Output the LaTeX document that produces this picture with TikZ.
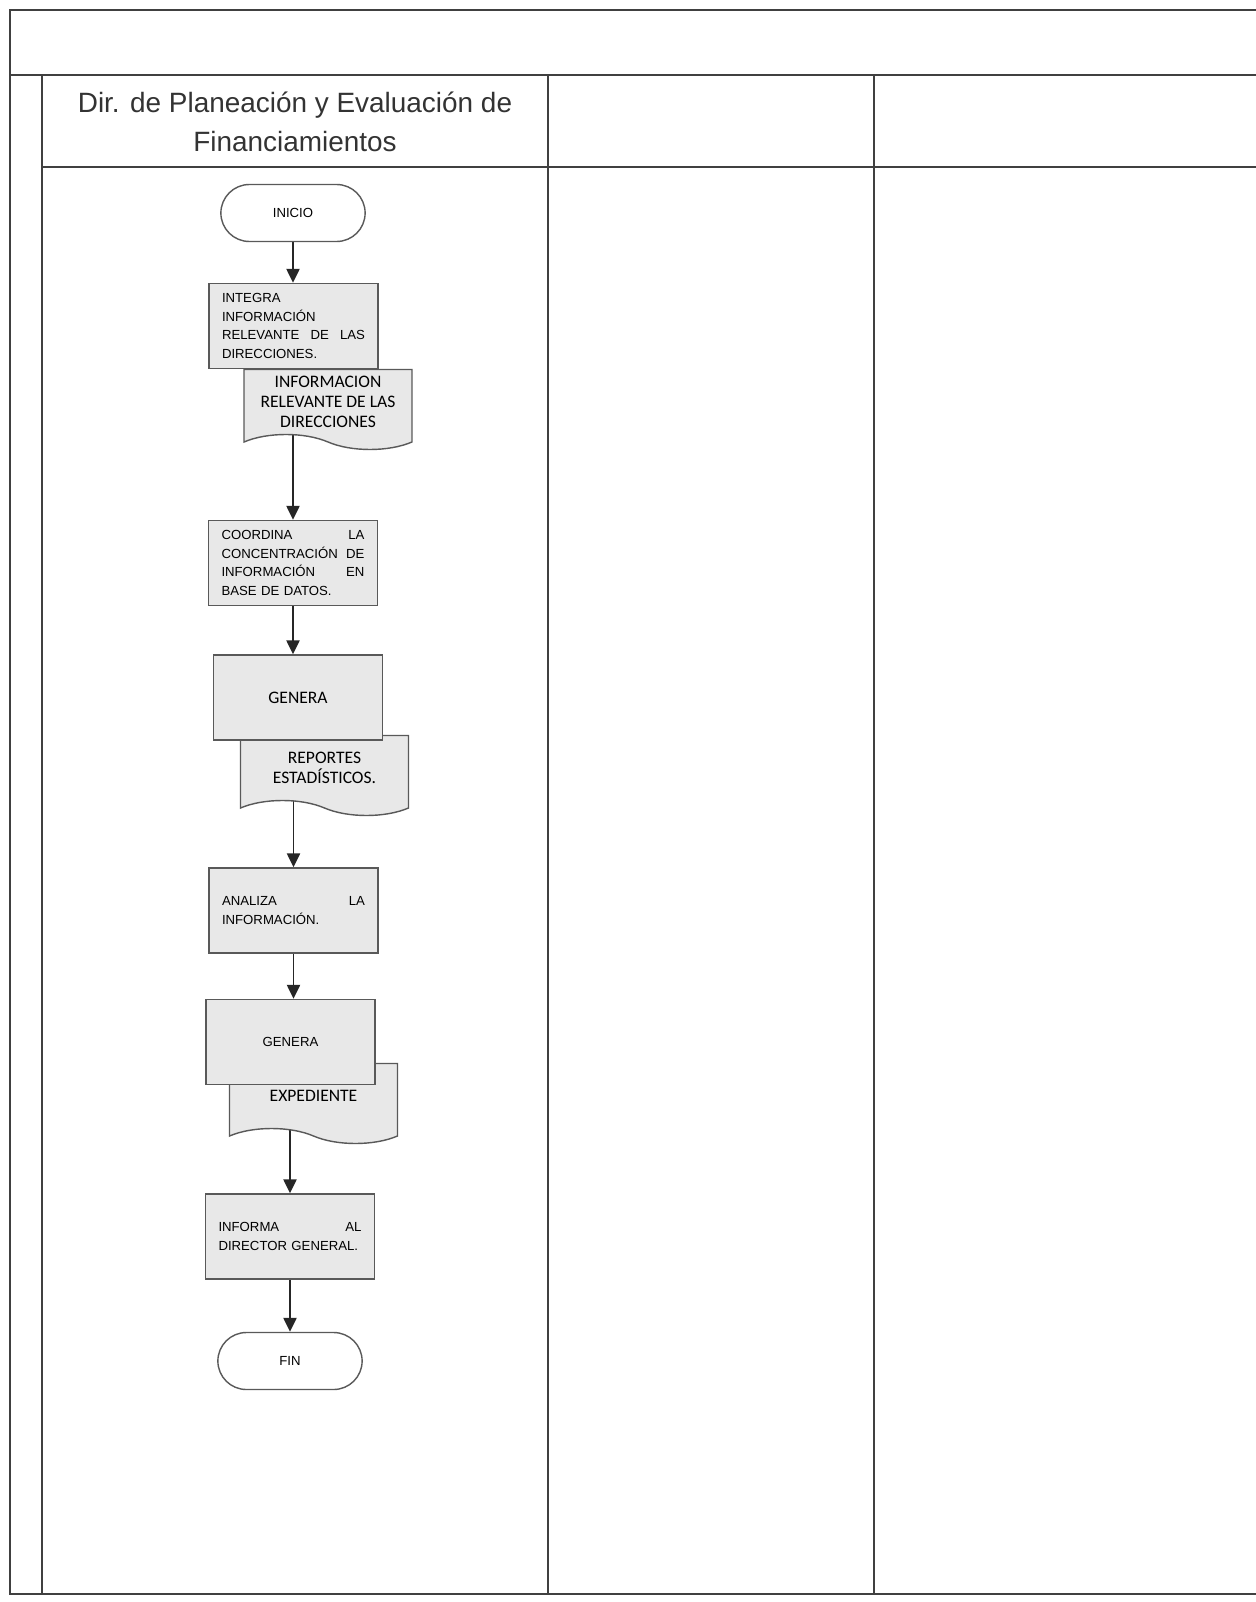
\documentclass[tikz,border=0pt]{standalone}
\usepackage{fontspec}
\setmainfont{Liberation Sans}
\newfontfamily\calibrifont{Carlito}
\usetikzlibrary{shapes.misc,shapes.symbols,arrows.meta,backgrounds}

\tikzset{
    lane/.style={draw=black!75, line width=1.1pt},
    terminal/.style={rounded rectangle, draw=black!65, fill=white, line width=0.8pt,
        minimum width=3.12cm, minimum height=1.14cm, font=\fontsize{7.5}{9}\selectfont},
    process/.style={rectangle, draw=black!65, fill=black!9, line width=0.8pt,
        minimum width=3.38cm, minimum height=1.7cm, text width=2.86cm, align=left,
        font=\fontsize{7.5}{10.5}\selectfont},
    document/.style={tape, tape bend top=none, tape bend bottom=out and in,
        tape bend height=0.3cm, draw=black!65, fill=black!9, line width=0.8pt,
        minimum width=3.36cm, minimum height=1.6cm, align=center,
        font=\calibrifont\fontsize{10}{11.3}\selectfont},
    flow/.style={-{Triangle[width=7.5pt,length=8pt]}, line width=1.1pt, draw=black!85}
}

\begin{document}
\begin{tikzpicture}[x=0.02cm, y=-0.02cm]
\useasboundingbox (0,0) rectangle (1256,1602);

% lanes
\draw[lane] (1256,10) -- (10,10) -- (10,1594) -- (1256,1594);
\draw[lane] (10,75) -- (1256,75);
\draw[lane] (42,75) -- (42,1594);
\draw[lane] (42,167) -- (1256,167);
\draw[lane] (548,75) -- (548,1594);
\draw[lane] (874,75) -- (874,1594);

\node[font=\fontsize{15.9}{22}\selectfont, align=center, text=black!80] (area) at (295,122)
    {Dir. de Planeación y Evaluación de\\Financiamientos};

% flow
\node[terminal] (inicio) at (293,213) {INICIO};
\node[document] (docinfo) at (328,402) {INFORMACION\\RELEVANTE DE LAS\\DIRECCIONES};
\node[process] (integra) at (293.5,326)
    {INTEGRA\\INFORMACIÓN\\RELEVANTE\hfill DE\hfill LAS\\DIRECCIONES.};
\node[process] (coordina) at (293,563)
    {COORDINA\hfill LA\\CONCENTRACIÓN\hfill DE\\INFORMACIÓN\hfill EN\\BASE DE DATOS.};
\node[document] (docrep) at (324.5,768) {REPORTES\\ESTADÍSTICOS.};
\node[process, align=center, font=\calibrifont\fontsize{10}{12}\selectfont] (genera) at (298,697.5) {GENERA};
\node[process] (analiza) at (293.5,910.5) {ANALIZA\hfill LA\\INFORMACIÓN.};
\node[document] (docexp) at (313.5,1096) {EXPEDIENTE};
\node[process, align=center] (generaexp) at (290.5,1042) {GENERA};
\node[process] (informa) at (290,1236.5) {INFORMA\hfill AL\\DIRECTOR GENERAL.};
\node[terminal] (fin) at (290,1361) {FIN};

\begin{pgfonlayer}{background}
\draw[flow] (inicio.south) -- (inicio.south |- integra.north);
\draw[flow] (coordina.north |- docinfo.south) -- (coordina.north);
\draw[flow] (coordina.south) -- (coordina.south |- genera.north);
\draw[flow] (analiza.north |- docrep.south) -- (analiza.north);
\draw[flow] (analiza.south) -- (analiza.south |- generaexp.north);
\draw[flow] (informa.north |- docexp.south) -- (informa.north);
\draw[flow] (informa.south) -- (informa.south |- fin.north);
\end{pgfonlayer}
\end{tikzpicture}
\end{document}
